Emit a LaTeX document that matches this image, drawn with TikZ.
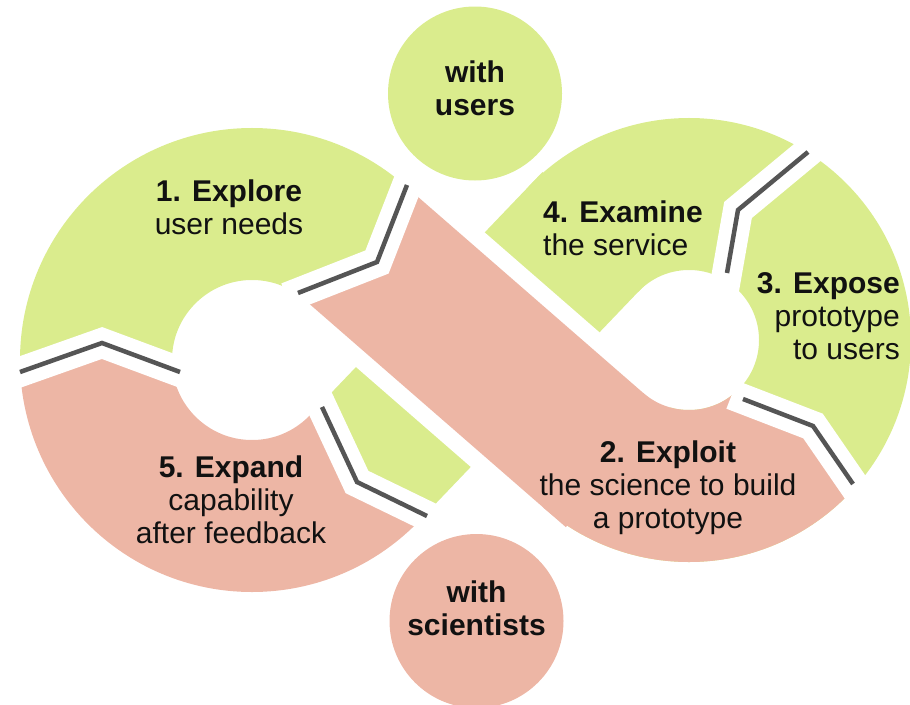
\documentclass[tikz,border=0pt]{standalone}
\usepackage{fontspec}
\setmainfont{Liberation Sans}
\begin{document}
\definecolor{leaf}{RGB}{218,236,141}
\definecolor{salmon}{RGB}{237,182,165}
\definecolor{seam}{RGB}{85,85,85}
\definecolor{ink}{RGB}{17,17,17}
\begin{tikzpicture}[x=1pt,y=-1pt,
  band/.style={line width=152pt,line cap=butt},
  bandedge/.style={white,line width=186pt,line cap=butt},
  seamgap/.style={white,line width=30pt,line join=miter,line cap=butt},
  seamline/.style={seam,line width=4.5pt,line join=miter,line cap=butt},
  lbl/.style={font=\fontsize{30}{33}\selectfont,text=ink,inner sep=0pt},
  hub/.style={circle,minimum size=174pt,inner sep=0pt,draw=none},
]
\useasboundingbox (0,0) rectangle (910,704);

% loop centres and the ends of the two straight runs
\coordinate (CL) at (252,360);
\coordinate (CR) at (689,340);
\coordinate (P1) at (324.28,216.10);
\coordinate (P2) at (615.71,469.77);
\coordinate (G1) at (337.11,496.72);
\coordinate (G2) at (597.33,224.62);

% seams between the stages
\coordinate (A1) at (20,372);  \coordinate (A2) at (102,343); \coordinate (A3) at (180,372);
\coordinate (B1) at (298,293); \coordinate (B2) at (377,262); \coordinate (B3) at (407,185);
\coordinate (C1) at (322,407); \coordinate (C2) at (357,482); \coordinate (C3) at (427,516);
\coordinate (D1) at (808,152); \coordinate (D2) at (738,210); \coordinate (D3) at (727,273);
\coordinate (E1) at (743,399); \coordinate (E2) at (813,426); \coordinate (E3) at (853,484);

% right loop (green), without the inner wedge facing the crossing
\begin{scope}
  \clip (CR) -- (327.7,-5.7) -- (327.7,-200) -- (1200,-200) -- (1200,1000)
        -- (360.5,1000) -- (360.5,717) -- cycle;
  \draw[leaf,band] (CR) circle[radius=146pt];
\end{scope}

% green run from stage 5 up to stage 4
\begin{scope}
  \clip (182,107) -- (C1) -- (C2) -- (C3) -- (707,652) -- (1200,652)
        -- (1200,-200) -- (182,-200) -- cycle;
  \draw[leaf,band] (G1) -- (G2);
\end{scope}

% left loop: stage 1 (green)
\begin{scope}
  \clip (-308,488) -- (A1) -- (A2) -- (A3) -- (CL) -- (B1) -- (B2) -- (B3)
        -- (527,-123) -- (-308,-123) -- cycle;
  \draw[leaf,band] (CL) circle[radius=156pt];
\end{scope}

% left loop: stage 5 (pink)
\begin{scope}
  \clip (-308,488) -- (A1) -- (A2) -- (A3) -- (CL) -- (C1) -- (C2) -- (C3)
        -- (707,652) -- (707,1000) -- (-308,1000) -- cycle;
  \draw[salmon,band] (CL) circle[radius=156pt];
\end{scope}

% pink run of stage 2, passing over the green one
\begin{scope}
  \clip (-18,417) -- (B1) -- (B2) -- (B3) -- (527,-123) -- (1200,-123)
        -- (1200,1000) -- (-18,1000) -- cycle;
  \draw[bandedge] (P1) -- (P2);
  \draw[salmon,band] (P1) -- (P2);
\end{scope}

% right loop: lower part of stage 2 (pink)
\begin{scope}
  \clip (CR) -- (E1) -- (E2) -- (E3) -- (1013,716) -- (1013,1000)
        -- (360.5,1000) -- (360.5,717) -- cycle;
  \draw[salmon,band] (CR) circle[radius=146pt];
\end{scope}

% seams: white cut, then the grey chevron
\draw[seamgap] (8.7,376) -- (A2) -- (191.3,376.2);
\draw[seamgap] (286.8,297.4) -- (B2) -- (411.4,173.8);
\draw[seamgap] (316.9,396.1) -- (C2) -- (437.8,521.2);
\draw[seamgap] (817.2,144.3) -- (D2) -- (721.8,302.5);
\draw[seamgap] (731.8,394.7) -- (E2) -- (859.8,493.9);
\draw[seamline] (A1) -- (A2) -- (A3);
\draw[seamline] (B1) -- (B2) -- (B3);
\draw[seamline] (C1) -- (C2) -- (C3);
\draw[seamline] (D1) -- (D2) -- (D3);
\draw[seamline] (E1) -- (E2) -- (E3);

% partner discs
\node[hub,fill=leaf] (users) at (475,93.5) {};
\node[hub,fill=salmon] (scientists) at (476.5,621) {};
\node[lbl,align=center] (usersText) at (475,91.9)
  {\strut\textbf{with}\\\strut\textbf{users}};
\node[lbl,align=center] (scientistsText) at (476.5,611.9)
  {\strut\textbf{with}\\\strut\textbf{scientists}};

% stage labels
\node[lbl,align=center] (explore) at (229,210.9)
  {\strut\textbf{1. Explore}\\\strut user needs};
\node[lbl,align=center] (exploit) at (668,488.4)
  {\strut\textbf{2. Exploit}\\\strut the science to build\\\strut a prototype};
\node[lbl,align=right,anchor=east] (expose) at (900,319.4)
  {\strut\textbf{3. Expose}\\\strut prototype\\\strut to users};
\node[lbl,align=left,anchor=west] (examine) at (543,232)
  {\strut\textbf{4. Examine}\\\strut the service};
\node[lbl,align=center] (expand) at (231,503.4)
  {\strut\textbf{5. Expand}\\\strut capability\\\strut after feedback};
\end{tikzpicture}
\end{document}
